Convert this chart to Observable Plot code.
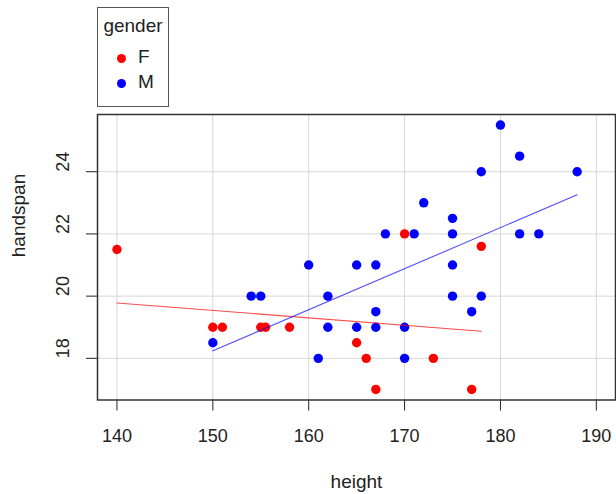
<!DOCTYPE html>
<html>
<head>
<meta charset="utf-8">
<script src="https://cdn.jsdelivr.net/npm/d3@7"></script>
<script src="https://cdn.jsdelivr.net/npm/@observablehq/plot@0.6"></script>
<style>
  body { margin: 0; background: #fff; font-family: "Liberation Sans", Arial, sans-serif; }
  #wrap { position: relative; width: 616px; }
  #legend { position: relative; height: 110px; width: 616px; }
  #legend .box { position: absolute; left: 97px; top: 7px; width: 70px; height: 98px; border: 1.5px solid #555; box-sizing: content-box; }
  #legend .title { position: absolute; left: 0; width: 70px; top: 7px; text-align: center; font-size: 19px; color: #222; }
  #legend .item { position: absolute; left: 0; font-size: 19px; color: #222; }
  #legend .dot { position: absolute; width: 9px; height: 9px; border-radius: 50%; }
  #legend .lab { position: absolute; left: 40px; }
  svg { display: block; }
</style>
</head>
<body>
<div id="wrap">
  <div id="legend"></div>
  <div id="chart"></div>
</div>
<script>
// ---- data ----
const gender = ["F","F","F","F","F","F","F","F","F","F","F","F","F",
  "M","M","M","M","M","M","M","M","M","M","M","M","M","M","M","M","M","M","M","M","M","M","M","M","M","M","M","M","M"];
const height = [140,150,151,155,155.5,158,165,166,167,170,173,177,178,
  150,154,155,160,161,162,162,165,165,167,167,167,168,170,170,171,172,175,175,175,175,177,178,178,180,182,182,184,188];
const handspan = [21.5,19,19,19,19,19,18.5,18,17,22,18,17,21.6,
  18.5,20,20,21,18,20,19,21,19,21,19.5,19,22,19,18,22,23,22.5,22,21,20,19.5,24,20,25.5,24.5,22,22,24];

// fitted lines (endpoints)
const fitGender = ["F","F","M","M"];
const fitHeight = [140,178,150,188];
const fitHandspan = [19.78,18.87,18.24,23.26];

const xTicks = [140,150,160,170,180,190];
const yTicks = [18,20,22,24];
const legendLevels = ["F","M"];
const colors = {F: "#ff0000", M: "#0000ff"};

const points = height.map((h, i) => ({height: h, handspan: handspan[i], gender: gender[i]}));
const fits = fitHeight.map((h, i) => ({height: h, handspan: fitHandspan[i], gender: fitGender[i]}));

// ---- legend ----
const leg = document.getElementById("legend");
const box = document.createElement("div"); box.className = "box"; leg.appendChild(box);
const t = document.createElement("div"); t.className = "title"; t.textContent = "gender"; box.appendChild(t);
legendLevels.forEach((g, i) => {
  const it = document.createElement("div"); it.className = "item";
  it.style.top = (38 + i * 25) + "px";
  const d = document.createElement("div"); d.className = "dot"; d.style.background = colors[g];
  d.style.left = "18.5px"; d.style.top = "7.5px";
  const l = document.createElement("div"); l.className = "lab"; l.textContent = g; l.style.top = "0px";
  it.appendChild(d); it.appendChild(l); box.appendChild(it);
});

// ---- chart ----
const chart = Plot.plot({
  width: 616,
  height: 384,
  marginTop: 4,
  marginLeft: 97,
  marginRight: 1,
  marginBottom: 94.5,
  style: {fontFamily: "Liberation Sans, Arial, sans-serif", fontSize: "18px", color: "#222", background: "#fff"},
  x: {domain: [137.97, 192.0]},
  y: {domain: [16.66, 25.84]},
  color: {domain: legendLevels, range: legendLevels.map(g => colors[g])},
  marks: [
    Plot.gridX(xTicks, {stroke: "#d6d6d6", strokeOpacity: 1, strokeWidth: 1}),
    Plot.gridY(yTicks, {stroke: "#d6d6d6", strokeOpacity: 1, strokeWidth: 1}),
    Plot.axisX(xTicks, {tickSize: 11, tickPadding: 18, fontSize: 18, stroke: "#222", label: null}),
    Plot.axisY(yTicks, {tickSize: 11, tickFormat: () => "", stroke: "#222", label: null}),
    Plot.text(yTicks, {y: d => d, text: d => String(d), frameAnchor: "left", dx: -34, rotate: -90, fontSize: 18, fill: "#222"}),
    Plot.text(["handspan"], {frameAnchor: "left", dx: -79, rotate: -90, fontSize: 19, fill: "#222"}),
    Plot.text(["height"], {frameAnchor: "bottom", dy: 88, fontSize: 19, fill: "#222"}),
    Plot.dot(points, {x: "height", y: "handspan", fill: "gender", r: 4.7, stroke: "none"}),
    Plot.line(fits, {x: "height", y: "handspan", z: "gender", stroke: "gender", strokeWidth: 1.1, strokeOpacity: 0.7}),
    Plot.frame({stroke: "#333", strokeWidth: 1.5})
  ]
});
document.getElementById("chart").appendChild(chart);
</script>
</body>
</html>
